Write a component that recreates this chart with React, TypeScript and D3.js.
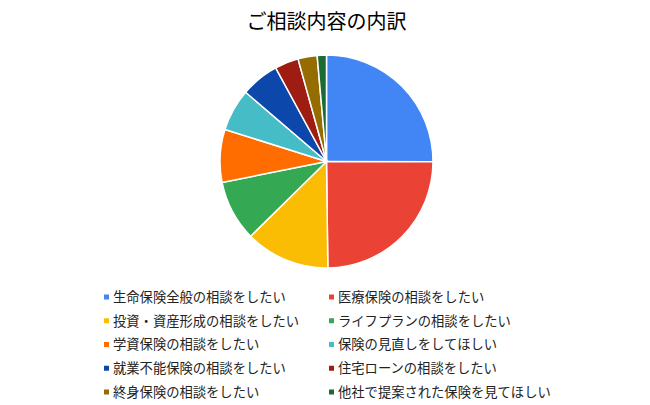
import React, { useEffect, useRef } from "react";
import * as d3 from "d3";

const categories = [
  "生命保険全般の相談をしたい",
  "医療保険の相談をしたい",
  "投資・資産形成の相談をしたい",
  "ライフプランの相談をしたい",
  "学資保険の相談をしたい",
  "保険の見直しをしてほしい",
  "就業不能保険の相談をしたい",
  "住宅ローンの相談をしたい",
  "終身保険の相談をしたい",
  "他社で提案された保険を見てほしい",
];
const values = [25, 24.7, 12.8, 9.2, 8, 6.4, 5.8, 3.6, 2.9, 1.4];
const colors = [
  "#4285f4",
  "#ea4335",
  "#fbbc04",
  "#34a853",
  "#ff6d01",
  "#46bdc6",
  "#0c47ac",
  "#9e1c12",
  "#946c00",
  "#1c6b35",
];
const title = "ご相談内容の内訳";

const width = 650;
const height = 405;
const center = { x: 326.5, y: 161.5 };
const radius = 106.5;
const font = "'Noto Sans CJK JP', 'Noto Sans', sans-serif";

const App: React.FC = () => {
  const ref = useRef<SVGSVGElement | null>(null);

  useEffect(() => {
    if (!ref.current) return;
    const svg = d3.select(ref.current);
    svg.selectAll("*").remove();

    svg.append("rect").attr("width", width).attr("height", height).attr("fill", "#fff");

    svg
      .append("text")
      .attr("x", 326.5)
      .attr("y", 29)
      .attr("text-anchor", "middle")
      .attr("font-family", font)
      .attr("font-size", 20)
      .attr("fill", "#000")
      .text(title);

    const pie = d3.pie<number>().sort(null).value((d) => d);
    const arc = d3.arc<d3.PieArcDatum<number>>().innerRadius(0).outerRadius(radius);

    svg
      .append("g")
      .attr("transform", `translate(${center.x},${center.y})`)
      .selectAll("path")
      .data(pie(values))
      .enter()
      .append("path")
      .attr("d", arc)
      .attr("fill", (_, i) => colors[i])
      .attr("stroke", "#fff")
      .attr("stroke-width", 1.5);

    // Legend: two columns
    const colX = [104, 329];
    const rowY = d3.scaleLinear().domain([0, 4]).range([297, 392]);

    const item = svg
      .append("g")
      .selectAll("g")
      .data(categories)
      .enter()
      .append("g")
      .attr("transform", (_, i) => `translate(${colX[i % 2]},${rowY(Math.floor(i / 2))})`);

    item
      .append("rect")
      .attr("x", 0)
      .attr("y", -2.5)
      .attr("width", 5)
      .attr("height", 5)
      .attr("fill", (_, i) => colors[i]);

    item
      .append("text")
      .attr("x", 9)
      .attr("y", 0)
      .attr("dy", "0.36em")
      .attr("font-family", font)
      .attr("font-size", 13.3)
      .attr("fill", "#222")
      .text((d) => d);
  }, []);

  return (
    <svg
      ref={ref}
      width={width}
      height={height}
      role="img"
      aria-label={title}
      style={{ position: "fixed", left: 0, top: 0, display: "block" }}
    />
  );
};

export default App;
